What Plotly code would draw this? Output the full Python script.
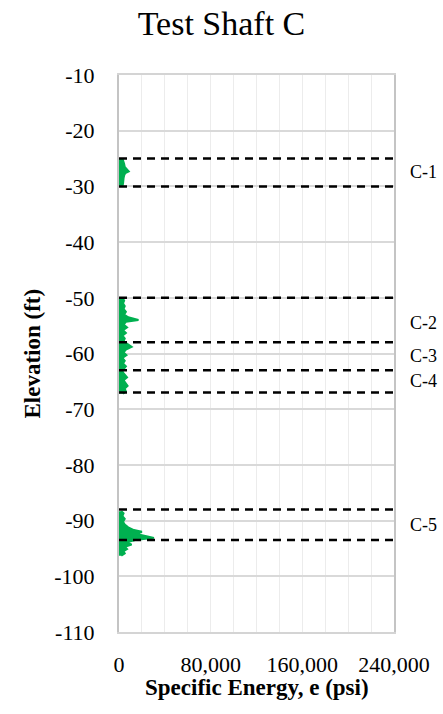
import plotly.graph_objects as go

# Specific energy profiles (psi) versus elevation (ft), one list pair per drilled interval
elev_c1 = [-25.0, -25.5, -26.0, -26.5, -27.0, -27.3, -27.6, -28.0, -28.5, -29.0, -29.5, -30.0]
energy_c1 = [3000, 4000, 4500, 5000, 7000, 8500, 5500, 4500, 4000, 4000, 3500, 3000]

elev_c2_c4 = [-50.0, -50.5, -51.0, -51.5, -52.0, -52.5, -53.0, -53.5, -54.0, -54.3, -54.8,
              -55.3, -55.8, -56.3, -56.8, -57.3, -57.8, -58.3, -58.8, -59.3, -59.8, -60.3,
              -60.8, -61.3, -61.8, -62.3, -62.8, -63.3, -63.8, -64.3, -64.8, -65.3, -65.8,
              -66.3, -66.8, -67.2]
energy_c2_c4 = [3000, 4500, 3500, 5000, 4000, 6000, 4500, 8000, 17000, 6000, 4000,
                7000, 3500, 6000, 3000, 5000, 4000, 8000, 11000, 6000, 4000, 6500,
                3000, 5000, 3500, 6000, 4000, 3000, 5000, 7000, 4000, 6000, 7500,
                5000, 6000, 3500]

elev_c5 = [-88.3, -88.7, -89.2, -89.7, -90.2, -90.7, -91.2, -91.7, -92.0, -92.4, -92.8,
           -93.1, -93.5, -93.9, -94.3, -94.7, -95.1, -95.5, -95.9, -96.3]
energy_c5 = [2000, 4000, 3000, 5000, 3500, 5000, 8000, 13000, 20000, 15000, 24000,
             30500, 14000, 7000, 11000, 5000, 7000, 4000, 5000, 2000]

# Layer boundaries (ft) and the layer names shown beside them
zone_bounds = [-25, -30, -50, -58, -63, -67, -88, -93.5]
zone_names = ["C-1", "C-2", "C-3", "C-4", "C-5"]
zone_label_elev = [-27.5, -54.5, -60.5, -65.0, -90.75]

x_ticks = [0, 80000, 160000, 240000]
x_tick_text = ["0", "80,000", "160,000", "240,000"]
y_ticks = [-110, -100, -90, -80, -70, -60, -50, -40, -30, -20, -10]
y_tick_text = ["-110", "-100", "-90", "-80", "-70", "-60", "-50", "-40", "-30", "-20", "-10"]

SERIF = "Liberation Serif"
GREEN = "#00b050"

fig = go.Figure()

for ys, xs in [(elev_c1, energy_c1), (elev_c2_c4, energy_c2_c4), (elev_c5, energy_c5)]:
    fig.add_trace(go.Scatter(
        x=xs, y=ys, mode="lines",
        line=dict(color=GREEN, width=2),
        fill="tozerox", fillcolor=GREEN,
        showlegend=False, hoverinfo="skip",
    ))

for b in zone_bounds:
    fig.add_hline(y=b, line=dict(color="black", width=2.5, dash="8px,6px"), layer="above")

for name, ye in zip(zone_names, zone_label_elev):
    fig.add_annotation(
        x=1, xref="paper", y=ye, yref="y", text=name, showarrow=False,
        xanchor="left", xshift=14, font=dict(family=SERIF, size=18, color="black"),
    )

# Axis titles
fig.add_annotation(
    x=0.5, xref="paper", y=0, yref="paper", yshift=-55, yanchor="middle",
    text="<b>Specific Energy, e (psi)</b>", showarrow=False,
    font=dict(family=SERIF, size=23, color="black"),
)
fig.add_annotation(
    x=0, xref="paper", xshift=-87, y=0.5, yref="paper", xanchor="center",
    text="<b>Elevation (ft)</b>", textangle=-90, showarrow=False,
    font=dict(family=SERIF, size=23, color="black"),
)

fig.update_layout(
    width=443, height=714,
    margin=dict(l=119, r=49, t=75, b=82),
    paper_bgcolor="white", plot_bgcolor="white",
    title=dict(text="Test Shaft C", x=0.5, xanchor="center", y=0.985, yanchor="top",
               yref="container", font=dict(family=SERIF, size=34, color="black")),
    font=dict(family=SERIF, size=22, color="black"),
)

fig.update_xaxes(
    range=[0, 240000], tickvals=x_ticks, ticktext=x_tick_text,
    showgrid=True, gridcolor="#ececec", gridwidth=1,
    minor=dict(dtick=20000, showgrid=True, gridcolor="#ececec", gridwidth=1),
    showline=True, linecolor="#d4d4d4", linewidth=1.5, mirror=True,
    zeroline=False, ticks="", ticklabelstandoff=12,
    tickfont=dict(family=SERIF, size=22, color="black"),
)
fig.update_yaxes(
    range=[-110, -10], tickvals=y_ticks, ticktext=y_tick_text,
    showgrid=True, gridcolor="#d9d9d9", gridwidth=1.5,
    showline=True, linecolor="#c4c4c4", linewidth=2, mirror=True,
    zeroline=False, ticks="", ticklabelstandoff=18,
    tickfont=dict(family=SERIF, size=22, color="black"),
)

fig.write_html("out.html")
